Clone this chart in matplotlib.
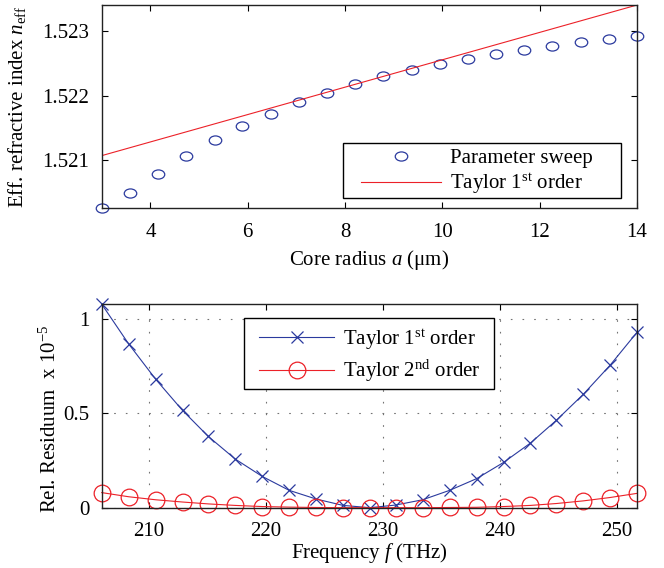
import matplotlib
matplotlib.use('Agg')
import matplotlib.pyplot as plt
from matplotlib.path import Path
from matplotlib.patches import Rectangle
from matplotlib.transforms import Affine2D

plt.rcParams['font.family'] = 'Liberation Serif'
plt.rcParams['mathtext.fontset'] = 'custom'
plt.rcParams['mathtext.rm'] = 'Liberation Serif'
plt.rcParams['mathtext.it'] = 'Liberation Serif:italic'
plt.rcParams['font.size'] = 15
plt.rcParams['xtick.direction'] = 'in'
plt.rcParams['ytick.direction'] = 'in'
plt.rcParams['xtick.top'] = True
plt.rcParams['ytick.right'] = True

# --- data ---
radius = [3.00, 3.58, 4.16, 4.74, 5.32, 5.89, 6.47, 7.05, 7.63, 8.21,
          8.79, 9.37, 9.95, 10.53, 11.11, 11.68, 12.26, 12.84, 13.42, 14.00]
n_sweep = [1.52026, 1.520497, 1.520782, 1.521057, 1.521311, 1.521528,
           1.521720, 1.521896, 1.522041, 1.522176, 1.522295, 1.522394,
           1.522487, 1.522570, 1.522642, 1.522710, 1.522772, 1.522829,
           1.522876, 1.522922]
taylor_radius = [3.0, 14.0]
taylor_n = [1.52107, 1.52340]

freq = [206.0, 208.3, 210.6, 212.9, 215.1, 217.4, 219.7, 222.0, 224.3, 226.6,
        228.9, 231.1, 233.4, 235.7, 238.0, 240.3, 242.6, 244.8, 247.1, 249.4,
        251.7]
res_1st = [1.080, 0.869, 0.682, 0.516, 0.378, 0.258, 0.166, 0.092, 0.046, 0.012,
           0.000, 0.014, 0.042, 0.092, 0.154, 0.240, 0.343, 0.463, 0.601, 0.756,
           0.931]
res_2nd = [0.080, 0.058, 0.042, 0.030, 0.020, 0.012, 0.006, 0.003, 0.001, 0.000,
           0.000, 0.000, 0.000, 0.001, 0.002, 0.006, 0.012, 0.022, 0.036, 0.054,
           0.076]

blue = '#2b3a9e'
red = '#ec2128'
W, H = 664, 568

# slightly squashed circle, like the original export
ellipse = Path.unit_circle().transformed(Affine2D().scale(1, 0.73))


def legend_box(ax, x0, y0, x1, y1):
    # MATLAB-like legend frame with wider side margins (pixel box)
    rect = Rectangle((x0 / W, 1 - y1 / H), (x1 - x0) / W, (y1 - y0) / H,
                     transform=ax.figure.transFigure, facecolor='white',
                     edgecolor='k', linewidth=1.0, zorder=4.5)
    ax.add_patch(rect)


fig = plt.figure(figsize=(W / 100, H / 100), dpi=100)
ax1 = fig.add_axes([0.1532, 0.6338, 0.8062, 0.3574])
ax2 = fig.add_axes([0.1532, 0.1062, 0.8062, 0.3586])

# top panel
ax1.plot(radius, n_sweep, linestyle='none', marker=ellipse, markersize=9,
         markerfacecolor='none', markeredgecolor=blue, markeredgewidth=0.9,
         clip_on=False, label='Parameter sweep')
ax1.plot(taylor_radius, taylor_n, color=red, linewidth=0.8,
         label=r'Taylor 1$^{\mathrm{st}}$ order')
ax1.set_xlim(3, 14)
ax1.set_ylim(1.52026, 1.52340)
ax1.set_xticks([4, 6, 8, 10, 12, 14])
ax1.set_yticks([1.521, 1.522, 1.523])
ax1.set_yticklabels(['1.521', '1.522', '1.523'])
ax1.set_xlabel(r'Core radius $a$ (μm)', labelpad=4)
ax1.set_ylabel(r'Eff. refractive index $n_{\mathrm{eff}}$')
ax1.yaxis.set_label_coords(-0.137, 0.5)
legend_box(ax1, 343, 143, 621, 198)
ax1.legend(loc='center left', bbox_to_anchor=(360.7 / W, 1 - 172.5 / H),
           bbox_transform=fig.transFigure, borderaxespad=0, borderpad=0,
           frameon=False, handlelength=3.84, handletextpad=0.45,
           labelspacing=0.15)

# bottom panel
ax2.plot(freq, res_1st, color=blue, linewidth=0.8, marker='x', markersize=9,
         markeredgewidth=0.9, clip_on=False, label=r'Taylor 1$^{\mathrm{st}}$ order')
ax2.plot(freq, res_2nd, color=red, linewidth=0.8, marker='o', markersize=12,
         markerfacecolor='none', markeredgewidth=0.9, clip_on=False,
         label=r'Taylor 2$^{\mathrm{nd}}$ order')
ax2.set_xlim(206.0, 251.7)
ax2.set_ylim(0, 1.081)
ax2.set_xticks([210, 220, 230, 240, 250])
ax2.set_yticks([0, 0.5, 1])
ax2.set_yticklabels(['0', '0.5', '1'])
ax2.grid(True, color='0.45', linewidth=0.8, linestyle=(0, (1.5, 9)))
ax2.set_ylabel(r'Rel. Residuum  x 10$^{-5}$')
ax2.yaxis.set_label_coords(-0.076, 0.434)
legend_box(ax2, 244, 318, 494, 389)
ax2.legend(loc='center left', bbox_to_anchor=(259.3 / W, 1 - 355.5 / H),
           bbox_transform=fig.transFigure, borderaxespad=0, borderpad=0,
           frameon=False, handlelength=3.59, handletextpad=0.42,
           labelspacing=0.3)

for ax in (ax1, ax2):
    ax.tick_params(length=4, width=0.8, pad=9)
    for s in ax.spines.values():
        s.set_linewidth(1.0)
        s.set_color('#222222')
ax1.tick_params(axis='x', pad=11)
ax2.tick_params(axis='x', pad=10)
ax2.set_xlabel(r'Frequency $f$ (THz)', labelpad=0)

fig.savefig('out.png', dpi=100)
